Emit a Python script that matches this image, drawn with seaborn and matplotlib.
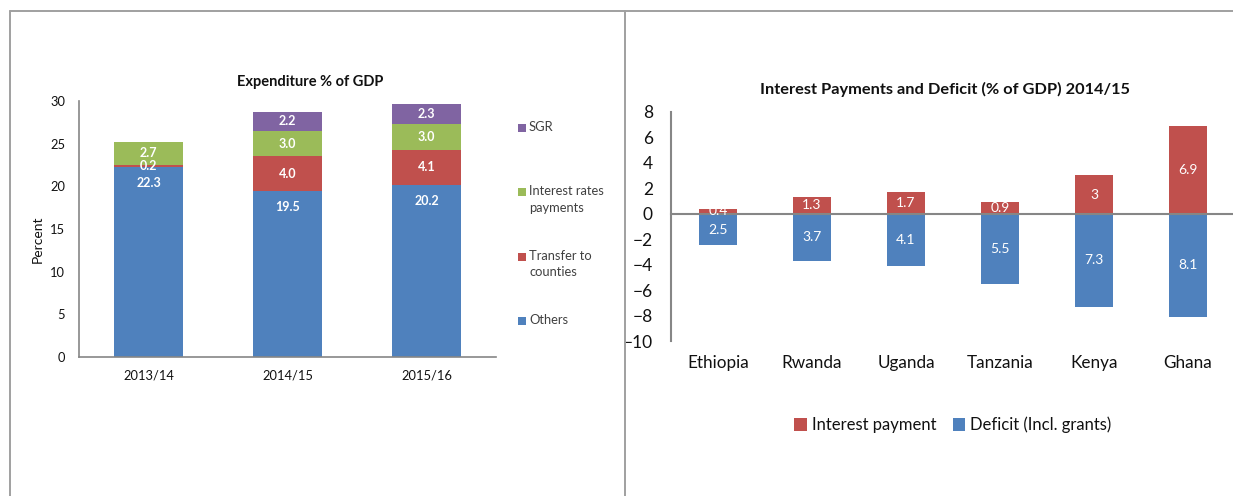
import matplotlib
matplotlib.use("Agg")
import matplotlib.pyplot as plt
from matplotlib.patches import Patch, Rectangle
from matplotlib.lines import Line2D
import matplotlib.transforms as mtransforms
import numpy as np
import pandas as pd
import seaborn as sns

# ---- data: expenditure composition (% of GDP) ----
years = ["2013/14", "2014/15", "2015/16"]
others = [22.3, 19.5, 20.2]
transfer_counties = [0.2, 4.0, 4.1]
interest_rates = [2.7, 3.0, 3.0]
sgr = [0.0, 2.2, 2.3]

# ---- data: interest payments and deficit 2014/15 (% of GDP) ----
countries = ["Ethiopia", "Rwanda", "Uganda", "Tanzania", "Kenya", "Ghana"]
interest_payment = [0.4, 1.3, 1.7, 0.9, 3, 6.9]
deficit = [2.5, 3.7, 4.1, 5.5, 7.3, 8.1]

BLUE = "#4F81BD"
RED = "#C0504D"
GREEN = "#9BBB59"
PURPLE = "#8064A2"
AXIS_GREY = "#868686"
FRAME_GREY = "#A0A0A0"

sns.set_style("white")
plt.rcParams["font.family"] = ["Lato", "DejaVu Sans"]
plt.rcParams["text.color"] = "#111111"
plt.rcParams["xtick.color"] = AXIS_GREY
plt.rcParams["ytick.color"] = AXIS_GREY
plt.rcParams["xtick.labelcolor"] = "#111111"
plt.rcParams["ytick.labelcolor"] = "#111111"

W, H = 1233, 496
fig = plt.figure(figsize=(W / 100, H / 100), dpi=100)


def px_axes(x0, y_top, x1, y_bottom):
    return fig.add_axes([x0 / W, 1 - y_bottom / H, (x1 - x0) / W, (y_bottom - y_top) / H])


def fx(x):
    return x / W


def fy(y):
    return 1 - y / H


# ================= left: stacked expenditure =================
axL = px_axes(79, 101, 496, 357)
exp = pd.DataFrame({
    "year": years,
    "Others": others,
    "Transfer to\ncounties": transfer_counties,
    "Interest rates\npayments": interest_rates,
    "SGR": sgr,
})
layers = ["Others", "Transfer to\ncounties", "Interest rates\npayments", "SGR"]
layer_colors = [BLUE, RED, GREEN, PURPLE]
cum = exp[layers].cumsum(axis=1)

# draw tallest cumulative first so each lower layer overlays it
for name, col in reversed(list(zip(layers, layer_colors))):
    sns.barplot(x=exp["year"], y=cum[name], color=col, saturation=1, width=0.49,
                errorbar=None, ax=axL, order=years, linewidth=0)

for i, yr in enumerate(years):
    base = 0.0
    for name in layers:
        v = exp.loc[i, name]
        if v > 0:
            if name == "Others":
                axL.annotate(f"{v:.1f}", xy=(i, base + v), xytext=(0, -11.5),
                             textcoords="offset points", ha="center", va="center",
                             color="white", fontsize=9, fontweight="bold")
            else:
                axL.text(i, base + v / 2, f"{v:.1f}", ha="center", va="center",
                         color="white", fontsize=9, fontweight="bold")
        base += v

axL.set_ylim(0, 30)
axL.set_yticks(np.arange(0, 31, 5))
axL.set_xlim(-0.5, 2.5)
axL.set_xticks([-0.5, 0.5, 1.5, 2.5])
axL.set_xticklabels([])
axL.set_xticks(range(len(years)), minor=True)
axL.set_xticklabels(years, minor=True)
axL.tick_params(axis="x", which="major", direction="out", length=4, width=1, color=AXIS_GREY)
axL.tick_params(axis="x", which="minor", length=0, pad=9, labelsize=9.3)
axL.tick_params(axis="y", direction="out", length=4, width=1, color=AXIS_GREY, labelsize=9.3, pad=6)
axL.set_xlabel("")
axL.set_ylabel("")
for s in ["top", "right"]:
    axL.spines[s].set_visible(False)
for s in ["left", "bottom"]:
    axL.spines[s].set_color(AXIS_GREY)
    axL.spines[s].set_linewidth(1.2)
fig.text(fx(38), fy(239), "Percent", rotation=90, ha="center", va="center", fontsize=10)
fig.text(fx(310), fy(82), "Expenditure % of GDP", ha="center", va="center",
         fontsize=10.5, fontweight="bold")

# legend: swatch aligned with the first line of each label
legend_rows = [("SGR", PURPLE, 128), ("Interest rates\npayments", GREEN, 192),
               ("Transfer to\ncounties", RED, 257), ("Others", BLUE, 321)]
for label, col, ytop in legend_rows:
    fig.add_artist(Rectangle((fx(518), fy(ytop + 4)), 8 / W, 8 / H, transform=fig.transFigure,
                             facecolor=col, edgecolor="none"))
    fig.text(fx(529), fy(ytop - 7), label, ha="left", va="top", fontsize=9.3,
             color="#404040", linespacing=1.45)

# ================= right: interest payments vs deficit =================
axR = px_axes(671, 111.7, 1233, 341)
ipd = pd.DataFrame({"country": countries, "interest": interest_payment,
                    "deficit_neg": [-d for d in deficit]})
sns.barplot(data=ipd, x="country", y="interest", color=RED, saturation=1, width=0.41,
            errorbar=None, ax=axR, order=countries, linewidth=0)
sns.barplot(data=ipd, x="country", y="deficit_neg", color=BLUE, saturation=1, width=0.41,
            errorbar=None, ax=axR, order=countries, linewidth=0)

for i in range(len(countries)):
    iv = ipd.loc[i, "interest"]
    dv = ipd.loc[i, "deficit_neg"]
    axR.text(i, iv / 2, f"{iv:g}", ha="center", va="center", color="white", fontsize=10)
    axR.text(i, dv / 2, f"{-dv:g}", ha="center", va="center", color="white", fontsize=10)

axR.set_ylim(-10, 8)
axR.set_yticks(np.arange(-10, 9, 2))
axR.set_xlim(-0.5, 5.48)
axR.set_xticks(np.arange(0.5, 5.0, 1.0))
axR.set_xticklabels([])
axR.tick_params(axis="x", direction="out", length=5, width=1, color=AXIS_GREY)
axR.tick_params(axis="y", direction="out", length=5, width=1, color=AXIS_GREY, labelsize=12.5, pad=8)
axR.spines["bottom"].set_position(("data", 0))
for s in ["top", "right"]:
    axR.spines[s].set_visible(False)
for s in ["left", "bottom"]:
    axR.spines[s].set_color(AXIS_GREY)
    axR.spines[s].set_linewidth(1.5)
axR.set_xlabel("")
axR.set_ylabel("")
trans = mtransforms.blended_transform_factory(axR.transData, axR.transAxes)
for i, c in enumerate(countries):
    axR.text(i, -0.095, c, transform=trans, ha="center", va="center", fontsize=12.3)
fig.text(fx(945), fy(89), "Interest Payments and Deficit (% of GDP) 2014/15", ha="center",
         va="center", fontsize=11.8, fontweight="bold")

fig.legend([Patch(facecolor=RED, edgecolor="none"), Patch(facecolor=BLUE, edgecolor="none")],
           ["Interest payment", "Deficit (Incl. grants)"], loc="center",
           bbox_to_anchor=(fx(953), fy(425)), ncol=2, frameon=False, fontsize=12,
           handlelength=0.75, handleheight=0.75, handletextpad=0.3, columnspacing=1.0)

# ---- panel frame lines ----
for (x0, y0, x1, y1) in [(10, 11, W, 11), (10, 11, 10, H), (625, 11, 625, H)]:
    fig.add_artist(Line2D([fx(x0), fx(x1)], [fy(y0), fy(y1)],
                          transform=fig.transFigure, color=FRAME_GREY, linewidth=1.4))

fig.savefig("out.png", dpi=100)
